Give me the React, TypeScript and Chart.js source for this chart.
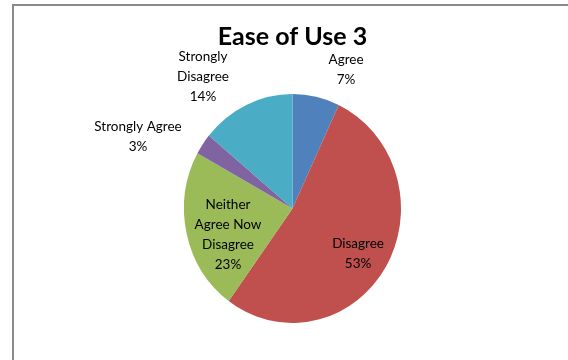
import React, { useEffect, useRef } from "react";
import { Chart, registerables } from "chart.js";

Chart.register(...registerables);

const TITLE = "Ease of Use 3";
const CATEGORIES = ["Agree", "Disagree", "Neither Agree Now Disagree", "Strongly Agree", "Strongly Disagree"];
const VALUES = [7, 53, 23, 3, 14];
const COLORS = ["#4F81BD", "#C0504D", "#9BBB59", "#8064A2", "#4BACC6"];

// label placement: radial factor (x outer radius), angle shift (deg), wrap width (px)
const LABEL_RADIUS = [1.307, 0.723, 0.638, 1.555, 1.414];
const LABEL_ANGLE_SHIFT = [9.6, 2.7, -8.7, -10.5, -10.5];
const LABEL_WRAP = [200, 200, 70, 200, 60];
const Y_STRETCH = 1.055;

const FONT = "Lato, 'Open Sans', sans-serif";

function wrap(ctx: CanvasRenderingContext2D, text: string, maxW: number): string[] {
  const words = text.split(" ");
  const lines: string[] = [];
  let cur = "";
  for (const w of words) {
    const t = cur ? cur + " " + w : w;
    if (cur && ctx.measureText(t).width > maxW) {
      lines.push(cur);
      cur = w;
    } else cur = t;
  }
  if (cur) lines.push(cur);
  return lines;
}

const labelPlugin = {
  id: "sliceLabels",
  beforeDraw(chart: any) {
    const ctx = chart.ctx;
    ctx.save();
    ctx.fillStyle = "#ffffff";
    ctx.fillRect(0, 0, chart.width, chart.height);
    ctx.fillStyle = "#8a8a8a";
    ctx.fillRect(12, 4, chart.width - 12, 2);
    ctx.fillRect(12, 4, 2, chart.height - 4);
    ctx.restore();
  },
  beforeDatasetsDraw(chart: any) {
    const ctx = chart.ctx;
    const a = chart.chartArea;
    const cy = (a.top + a.bottom) / 2;
    ctx.save();
    ctx.translate(0, cy);
    ctx.scale(1, Y_STRETCH);
    ctx.translate(0, -cy);
  },
  afterDatasetsDraw(chart: any) {
    const ctx = chart.ctx;
    ctx.restore();
    const meta = chart.getDatasetMeta(0);
    const total = VALUES.reduce((a, b) => a + b, 0);
    ctx.save();
    ctx.font = `13.5px ${FONT}`;
    ctx.fillStyle = "#000000";
    ctx.textAlign = "center";
    ctx.textBaseline = "middle";
    meta.data.forEach((arc: any, i: number) => {
      const mid = (arc.startAngle + arc.endAngle) / 2 + (LABEL_ANGLE_SHIFT[i] * Math.PI) / 180;
      const r = arc.outerRadius * LABEL_RADIUS[i];
      const x = arc.x + Math.cos(mid) * r;
      const y = arc.y + Math.sin(mid) * r * Y_STRETCH;
      const lines = wrap(ctx, CATEGORIES[i], LABEL_WRAP[i]);
      lines.push(Math.round((VALUES[i] / total) * 100) + "%");
      const lh = 20;
      const y0 = y - ((lines.length - 1) * lh) / 2;
      lines.forEach((l, k) => ctx.fillText(l, x, y0 + k * lh));
    });
    ctx.restore();
  },
};

export default function App() {
  const ref = useRef<HTMLCanvasElement | null>(null);
  useEffect(() => {
    if (!ref.current) return;
    const chart = new Chart(ref.current, {
      type: "pie",
      data: {
        labels: CATEGORIES,
        datasets: [
          {
            data: VALUES,
            backgroundColor: COLORS,
            borderWidth: 0,
          },
        ],
      },
      options: {
        responsive: false,
        animation: false,
        layout: { padding: { top: 0, bottom: 43, left: 184, right: 167 } },
        plugins: {
          legend: { display: false },
          tooltip: { enabled: false },
          title: {
            display: true,
            text: TITLE,
            color: "#000000",
            font: { family: FONT, size: 25, weight: "bold", lineHeight: 1.2 },
            padding: { top: 22, bottom: 48 },
          },
        },
      },
      plugins: [labelPlugin],
    });
    return () => chart.destroy();
  }, []);
  return (
    <div style={{ position: "fixed", left: 0, top: 0, width: 568, height: 360 }}>
      <canvas ref={ref} width={568} height={360} style={{ display: "block", width: 568, height: 360 }} />
    </div>
  );
}
